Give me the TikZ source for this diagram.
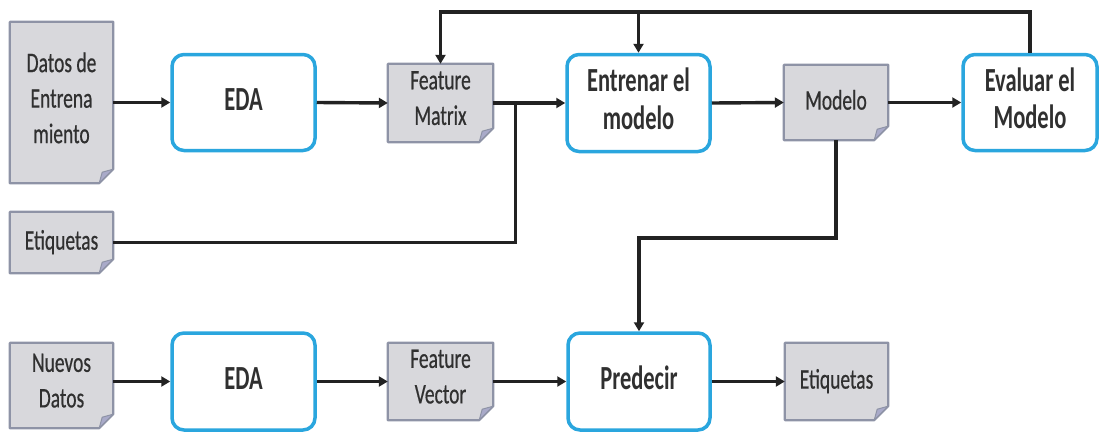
\documentclass[tikz,border=0pt]{standalone}
\usepackage{fontspec}
\setmainfont{Carlito}
\newfontfamily\medfont[FakeBold=0.7]{Carlito}
\usetikzlibrary{arrows.meta,calc}
\definecolor{docfill}{HTML}{D8D8DC}
\definecolor{docline}{HTML}{8E93A6}
\definecolor{flap}{HTML}{A9AAC9}
\definecolor{procline}{HTML}{2AA6DE}
\definecolor{ink}{HTML}{303030}
\definecolor{wire}{HTML}{222222}
\newcommand{\doctxt}[1]{\scalebox{1}[1.45]{\medfont\fontsize{19.5}{24.5}\selectfont\begin{tabular}{@{}c@{}}#1\end{tabular}}}
\newcommand{\proctxt}[1]{\scalebox{1}[1.5]{\bfseries\fontsize{22.5}{25}\selectfont\begin{tabular}{@{}c@{}}#1\end{tabular}}}
\tikzset{
  docbox/.style={rectangle, inner sep=0pt, text=ink},
  procbox/.style={rectangle, rounded corners=12pt, draw=procline, line width=3.5pt, fill=white, inner sep=0pt, text=ink},
  wireline/.style={draw=wire, line width=3.4pt},
  arr/.style={wireline, -{Triangle[length=9pt,width=10pt]}},
}
\begin{document}
\begin{tikzpicture}[x=1pt,y=-1pt]
\useasboundingbox (0,0) rectangle (1100,434);
% documents (shapes drawn below)
\node[docbox, minimum width=103pt, minimum height=161pt] (datos) at (61.5,102.5) {};
\node[docbox, minimum width=105pt, minimum height=78pt] (fm) at (440.5,103) {};
\node[docbox, minimum width=104pt, minimum height=75pt] (modelo) at (836,102.5) {};
\node[docbox, minimum width=103pt, minimum height=61pt] (etiq1) at (61.5,242.5) {};
\node[docbox, minimum width=103pt, minimum height=85pt] (nuevos) at (61.5,385.5) {};
\node[docbox, minimum width=105pt, minimum height=77pt] (fv) at (440.5,381.5) {};
\node[docbox, minimum width=103pt, minimum height=77pt] (etiq2) at (836.5,381.5) {};
\foreach \n in {datos,fm,modelo,etiq1,nuevos,fv,etiq2}{
  \fill[docfill, draw=docline, line width=2.2pt, line join=round]
    (\n.north west) -- (\n.north east) -- ($(\n.south east)+(0,-14)$)
    -- ($(\n.south east)+(-14,0)$) -- (\n.south west) -- cycle;
  \fill[flap, draw=docline, line width=1pt, line join=round]
    ($(\n.south east)+(0,-14)$) -- ($(\n.south east)+(-14,0)$)
    -- ($(\n.south east)+(-11,-11)$) -- cycle;
}
\node[text=ink] at ($(datos)+(0,-2)$) {\doctxt{Datos de\\Entrena\\miento}};
\node[text=ink] at ($(fm)+(0,-3)$) {\doctxt{Feature\\Matrix}};
\node[text=ink] at (modelo) {\doctxt{Modelo}};
\node[text=ink] at (etiq1) {\doctxt{Etiquetas}};
\node[text=ink] at ($(nuevos)+(0,-3)$) {\doctxt{Nuevos\\Datos}};
\node[text=ink] at ($(fv)+(0,-3)$) {\doctxt{Feature\\Vector}};
\node[text=ink] at (etiq2) {\doctxt{Etiquetas}};
% processes
\node[procbox, minimum width=143pt, minimum height=96pt] (eda1) at (243.5,102.5) {\proctxt{EDA}};
\node[procbox, minimum width=143pt, minimum height=97pt] (entrenar) at (638.5,103) {\proctxt{Entrenar el\\modelo}};
\node[procbox, minimum width=134pt, minimum height=96pt] (evaluar) at (1030,102.5) {\proctxt{Evaluar el\\Modelo}};
\node[procbox, minimum width=143pt, minimum height=97pt] (eda2) at (243.5,381.5) {\proctxt{EDA}};
\node[procbox, minimum width=142pt, minimum height=97pt] (pred) at (639,381.5) {\proctxt{Predecir}};
% helper coordinates
\coordinate (top) at (0,12);
\coordinate (mid) at (0,238);
\coordinate (j1) at ($(fm.east)+(22,0)$);
% connectors
\draw[arr] (datos.east |- eda1.west) -- (eda1.west);
\draw[arr] (eda1.east) -- (fm.west);
\draw[arr] (fm.east) -- (entrenar.west);
\draw[arr] (entrenar.east) -- (modelo.west);
\draw[arr] (modelo.east) -- (evaluar.west);
\draw[wireline] (etiq1.east) -| (j1);
\draw[arr] (evaluar.north) |- (top -| fm.north) -- (fm.north);
\draw[arr] (top -| entrenar.north) -- (entrenar.north);
\draw[arr] (modelo.south) |- (mid -| pred.north) -- (pred.north);
\draw[arr] (nuevos.east |- eda2.west) -- (eda2.west);
\draw[arr] (eda2.east) -- (fv.west |- eda2.east);
\draw[arr] (fv.east |- pred.west) -- (pred.west);
\draw[arr] (pred.east) -- (etiq2.west |- pred.east);
\end{tikzpicture}
\end{document}
